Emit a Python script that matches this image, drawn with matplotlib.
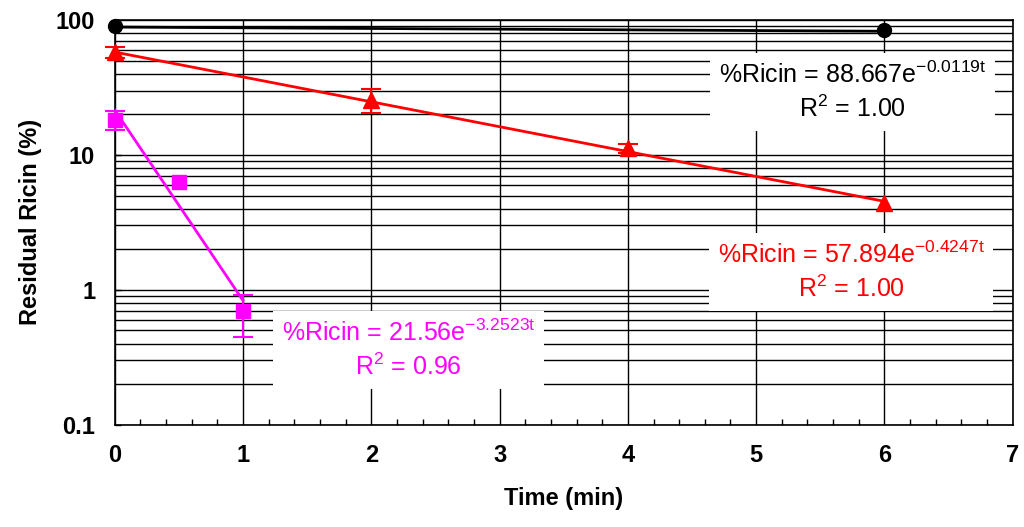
import numpy as np
import matplotlib.pyplot as plt
from matplotlib.ticker import FixedLocator, MultipleLocator, NullFormatter

plt.rcParams['font.family'] = ['Liberation Sans Narrow', 'Liberation Sans', 'DejaVu Sans']
plt.rcParams['mathtext.fontset'] = 'custom'
plt.rcParams['mathtext.rm'] = 'Liberation Sans'

# Datos
t_black = [0, 6]
y_black = [90.5, 84.5]

t_red = [0, 2, 4, 6]
y_red = [57.5, 25.5, 11.2, 4.4]
err_red_lo = [5.0, 5.0, 0.8, 0.0]
err_red_hi = [6.0, 5.5, 0.8, 0.0]

t_mag = [0, 0.5, 1]
y_mag = [18.2, 6.3, 0.70]
err_mag_lo = [2.8, 0.0, 0.25]
err_mag_hi = [3.0, 0.0, 0.22]

# Ajustes exponenciales (a, b, t_ini, t_fin) mostrados en la figura
fit_black = (88.667, -0.0119, 0, 6)
fit_red = (57.894, -0.4247, 0, 6)
fit_mag = (21.56, -3.2523, 0, 1)

y_ticks = [0.1, 1, 10, 100]
y_tick_labels = ['0.1', '1', '10', '100']
x_ticks = [0, 1, 2, 3, 4, 5, 6, 7]

fig = plt.figure(figsize=(10.24, 5.27), dpi=100)
ax = fig.add_axes([0.112, 0.194, 0.877, 0.768])
ax.set_yscale('log')
ax.set_xlim(0, 7)
ax.set_ylim(0.1, 100)

# Rejilla
ax.set_yticks(y_ticks)
ax.set_yticklabels(y_tick_labels)
minors = [m * 10.0**e for e in (-1, 0, 1) for m in range(2, 10)]
ax.yaxis.set_minor_locator(FixedLocator(minors))
ax.yaxis.set_minor_formatter(NullFormatter())
ax.set_xticks(x_ticks)
ax.xaxis.set_minor_locator(MultipleLocator(0.2))
ax.grid(True, which='both', axis='y', color='black', linewidth=1)
ax.grid(True, which='major', axis='x', color='black', linewidth=1)
ax.tick_params(axis='both', which='both', direction='in', length=4, width=1)
ax.tick_params(axis='y', which='minor', length=0)
ax.tick_params(axis='x', which='major', length=0, pad=14)
ax.tick_params(axis='y', which='major', pad=14)
for s in ax.spines.values():
    s.set_linewidth(1.2)

def trend(fit, color):
    a, b, t0, t1 = fit
    tt = np.array([t0, t1])
    ax.plot(tt, a * np.exp(b * tt), color=color, linewidth=2, zorder=4)

def series(t, y, lo, hi, marker, color, ms):
    t, y, lo, hi = map(np.asarray, (t, y, lo, hi))
    ax.plot(t, y, marker, color=color, markersize=ms, zorder=5, clip_on=False)
    m = (lo > 0) | (hi > 0)
    if m.any():
        ax.errorbar(t[m], y[m], yerr=[lo[m], hi[m]], fmt='none', ecolor=color,
                    capsize=7, elinewidth=1.5, capthick=1.5, zorder=5, clip_on=False)

trend(fit_black, 'black')
trend(fit_red, 'red')
trend(fit_mag, 'magenta')

ax.plot(t_black, y_black, 'o', color='black', markersize=10, zorder=5, clip_on=False)
series(t_red, y_red, err_red_lo, err_red_hi, '^', 'red', 11)
series(t_mag, y_mag, err_mag_lo, err_mag_hi, 's', 'magenta', 10)

box = dict(boxstyle='square,pad=0.35', facecolor='white', edgecolor='none')
txt_kw = dict(transform=ax.transAxes, ha='center', va='center', multialignment='center',
              fontsize=18, family=['Liberation Sans'], linespacing=1.35, bbox=box, zorder=3)
ax.text(0.822, 0.823, '%Ricin = 88.667e$^{\\mathregular{-0.0119t}}$\nR$^{\\mathregular{2}}$ = 1.00',
        color='black', **txt_kw)
ax.text(0.82, 0.378, '%Ricin = 57.894e$^{\\mathregular{-0.4247t}}$\nR$^{\\mathregular{2}}$ = 1.00',
        color='red', **txt_kw)
ax.text(0.327, 0.185, '%Ricin = 21.56e$^{\\mathregular{-3.2523t}}$\nR$^{\\mathregular{2}}$ = 0.96',
        color='magenta', **txt_kw)

for lab in ax.get_xticklabels() + ax.get_yticklabels():
    lab.set_fontweight('bold')
    lab.set_fontsize(17)
ax.set_xlabel('Time (min)', fontsize=17, fontweight='bold', labelpad=14)
ax.set_ylabel('Residual Ricin (%)', fontsize=17, fontweight='bold', labelpad=10)

fig.savefig('out.png', dpi=100)
